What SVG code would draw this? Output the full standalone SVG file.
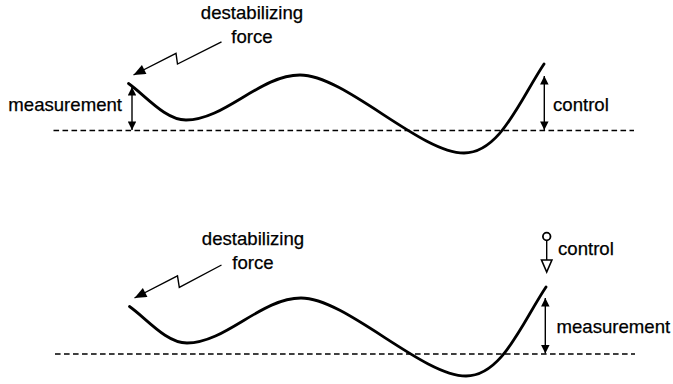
<svg xmlns="http://www.w3.org/2000/svg" width="673" height="384" viewBox="0 0 673 384">
<defs>
<marker id="fa" viewBox="0 0 10 10" refX="10" refY="5" markerWidth="11" markerHeight="8.5" markerUnits="userSpaceOnUse" orient="auto-start-reverse"><path d="M0,0 L10,5 L0,10 Z" fill="#000"/></marker>
<marker id="fb" viewBox="0 0 12 10" refX="12" refY="5" markerWidth="14" markerHeight="10" markerUnits="userSpaceOnUse" orient="auto"><path d="M0,0 L12,5 L0,10 Z" fill="#000"/></marker>
</defs>
<style>
text{font-family:"Liberation Sans",Arial,sans-serif;font-size:18.6px;fill:#000;stroke:#000;stroke-width:0.25}
.wave{fill:none;stroke:#000;stroke-width:2.8;stroke-linecap:round}
.base{fill:none;stroke:#000;stroke-width:1.5;stroke-dasharray:5.6 3.4}
.arr{fill:none;stroke:#000;stroke-width:1.4}
.bolt{fill:none;stroke:#000;stroke-width:1.4;stroke-linejoin:miter}
</style>
<rect width="673" height="384" fill="#fff"/>
<g id="top">
<g id="top-baseline"><line class="base" x1="53.5" y1="130.5" x2="634" y2="130.5"/></g>
<g id="top-wave"><path class="wave" d="M128.5,83.5 C145,95 165,120 186,120 C225,120 260,75 300,75 C345,75 420,153 464,153 C500,153 520,100 544,64"/></g>
<g id="top-force"><text x="252" y="18.5" text-anchor="middle">destabilizing</text><text x="252" y="42.5" text-anchor="middle">force</text></g>
<g id="top-measurement"><text x="122" y="111" text-anchor="end">measurement</text></g>
<g id="top-control"><text x="553" y="111">control</text></g>
</g>
<g id="bottom">
<g id="bottom-baseline"><line class="base" x1="55" y1="354" x2="635" y2="354"/></g>
<g id="bottom-wave"><path class="wave" d="M129.5,306.5 C146,318 166,343 187,343 C226,343 261,298 301,298 C346,298 422,376 466,376 C502,376 522,323 546,287"/></g>
<g id="bottom-force"><text x="253" y="245" text-anchor="middle">destabilizing</text><text x="253" y="268.5" text-anchor="middle">force</text></g>
<g id="bottom-control"><circle cx="546.7" cy="236.5" r="3.8" fill="#fff" stroke="#000" stroke-width="1.8"/><text x="558" y="255">control</text></g>
<g id="bottom-measurement"><text x="556.5" y="333">measurement</text></g>
</g>
<g id="connectors">
<path class="bolt" d="M221.5,41.8 L177.5,64 L176,53.3 L133.5,75" marker-end="url(#fb)"/>
<line class="arr" x1="132" y1="87" x2="132" y2="130" marker-start="url(#fa)" marker-end="url(#fa)"/>
<line class="arr" x1="544.3" y1="76" x2="544.3" y2="130" marker-start="url(#fa)" marker-end="url(#fa)"/>
<path class="bolt" d="M221.5,265 L179.3,287.3 L177.5,275.8 L134.5,298" marker-end="url(#fb)"/>
<line class="arr" x1="545.3" y1="298" x2="545.3" y2="353.5" marker-start="url(#fa)" marker-end="url(#fa)"/>
<line class="arr" x1="546.7" y1="240.3" x2="546.7" y2="260" stroke-width="2"/>
<path d="M541.5,260 L551.9,260 L546.7,272 Z" fill="#fff" stroke="#000" stroke-width="1.6" stroke-linejoin="miter"/>
</g>
</svg>
